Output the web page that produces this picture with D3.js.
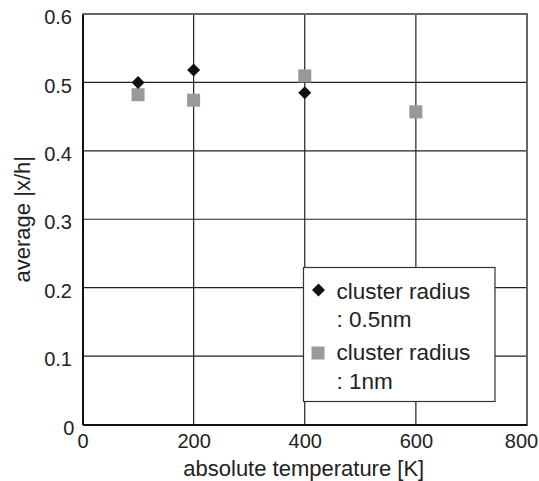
<!DOCTYPE html>
<html><head><meta charset="utf-8">
<script src="https://cdn.jsdelivr.net/npm/d3@7"></script>
<style>body{margin:0;background:#fff;}svg{display:block;font-family:"Liberation Sans",Arial,sans-serif;}</style>
</head><body>
<script>
const xTicks = [0, 200, 400, 600, 800];
const yTicks = [0, 0.1, 0.2, 0.3, 0.4, 0.5, 0.6];
const yTickLabels = ["0", "0.1", "0.2", "0.3", "0.4", "0.5", "0.6"];
const temp05 = [100, 200, 400];
const val05 = [0.500, 0.518, 0.485];
const temp1 = [100, 200, 400, 600];
const val1 = [0.482, 0.474, 0.5095, 0.457];
const seriesNames = ["cluster radius\n: 0.5nm", "cluster radius\n: 1nm"];
const xTitle = "absolute temperature [K]";
const yTitle = "average |x/h|";

const W = 539, H = 481;
const m = {l: 82.5, r: 527, t: 14, b: 424.5};
const svg = d3.select("body").append("svg").attr("width", W).attr("height", H);
const x = d3.scaleLinear().domain([0, 800]).range([m.l, m.r]);
const y = d3.scaleLinear().domain([0, 0.6]).range([m.b, m.t]);

// gridlines
const g = svg.append("g");
g.selectAll("line.v").data(xTicks.slice(1, -1)).join("line")
  .attr("x1", d => x(d)).attr("x2", d => x(d)).attr("y1", m.t).attr("y2", m.b)
  .attr("stroke", "#222").attr("stroke-width", 1.2);
g.selectAll("line.h").data(yTicks.slice(1, -1)).join("line")
  .attr("y1", d => y(d)).attr("y2", d => y(d)).attr("x1", m.l).attr("x2", m.r)
  .attr("stroke", "#222").attr("stroke-width", 1.2);
// top/right border
svg.append("path").attr("d", `M${m.l},${m.t}H${m.r}V${m.b}`).attr("fill", "none")
  .attr("stroke", "#666").attr("stroke-width", 2);
// axes
const xAxis = d3.axisBottom(x).tickValues(xTicks).tickSize(0).tickPadding(9);
const yAxis = d3.axisLeft(y).tickValues(yTicks).tickSize(0).tickPadding(10.5)
  .tickFormat((d, i) => yTickLabels[i]);
const xa = svg.append("g").attr("transform", `translate(0,${m.b})`).call(xAxis);
const ya = svg.append("g").attr("transform", `translate(${m.l},0)`).call(yAxis);
[xa, ya].forEach(a => {
  a.select(".domain").attr("stroke", "#111").attr("stroke-width", 2);
  a.selectAll("text").attr("font-size", 20).attr("fill", "#222")
   .attr("font-family", "Liberation Sans, Arial, sans-serif");
});
ya.selectAll(".tick text").attr("dy", "0.48em");
ya.selectAll(".tick").filter(d => d === 0).select("text").attr("dy", "0.52em").attr("dx", "0.12em");
xa.selectAll(".tick").filter(d => d === 800).select("text").attr("dx", -6);

// titles
svg.append("text").attr("x", (m.l + m.r) / 2 - 1).attr("y", 476).attr("text-anchor", "middle")
  .attr("font-size", 22).attr("fill", "#222").text(xTitle);
svg.append("text").attr("transform", `translate(30,${(m.t + m.b) / 2}) rotate(-90)`)
  .attr("text-anchor", "middle").attr("font-size", 22).attr("fill", "#222").text(yTitle);

// markers
const dia = d3.symbol().type(d3.symbolSquare).size(84);
svg.append("g").selectAll("rect").data(temp1).join("rect")
  .attr("x", d => x(d) - 6.5).attr("y", (d, i) => y(val1[i]) - 6.5)
  .attr("width", 13).attr("height", 13).attr("fill", "#999");
svg.append("g").selectAll("path").data(temp05).join("path")
  .attr("d", dia).attr("transform", (d, i) => `translate(${x(d)},${y(val05[i])}) rotate(45)`)
  .attr("fill", "#111");

// legend
const lg = svg.append("g");
lg.append("rect").attr("x", 303.5).attr("y", 267.5).attr("width", 191.5).attr("height", 134)
  .attr("fill", "#fff").attr("stroke", "#333").attr("stroke-width", 1.2);
lg.append("path").attr("d", dia).attr("transform", "translate(318.5,290) rotate(45)").attr("fill", "#111");
lg.append("rect").attr("x", 311.5).attr("y", 346.5).attr("width", 13).attr("height", 13).attr("fill", "#999");
const baselines = [[298.5, 326.5], [360, 388.5]];
seriesNames.forEach((nm, i) => {
  const t = lg.append("text").attr("font-size", 22.5).attr("fill", "#222");
  nm.split("\n").forEach((ln, j) => {
    t.append("tspan").attr("x", 336.5).attr("y", baselines[i][j]).text(ln);
  });
});
</script>
</body></html>
